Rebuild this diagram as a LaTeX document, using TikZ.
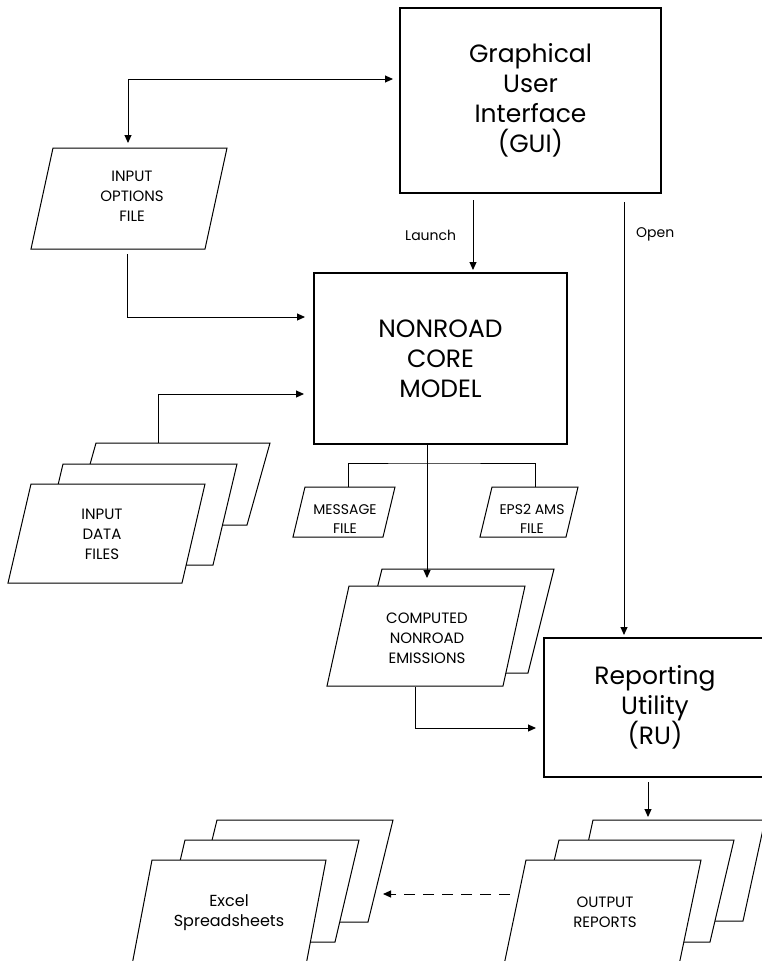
\documentclass[tikz,border=0pt]{standalone}
\usepackage{fontspec}
\setmainfont{Poppins}
\usetikzlibrary{arrows.meta}
\begin{document}
\begin{tikzpicture}[x=1pt,y=-1pt,
  bigbox/.style={draw, line width=2.5pt, align=center, inner sep=0pt, font=\fontsize{25}{30}\selectfont},
  conn/.style={line width=1pt},
  arr/.style={conn, -{Triangle[length=8pt,width=7pt]}},
  dblarr/.style={conn, {Triangle[length=8pt,width=7pt]}-{Triangle[length=8pt,width=7pt]}},
  pg/.style={draw, line width=1pt, fill=white},
  small/.style={align=center, font=\fontsize{15}{20}\selectfont},
  tiny/.style={align=center, font=\fontsize{14}{19}\selectfont},
  lbl/.style={font=\fontsize{14}{16}\selectfont, anchor=west, inner sep=0pt}
]
\useasboundingbox (0,0) rectangle (762,961);

% main boxes
\node[bigbox, minimum width=261pt, minimum height=185pt] (gui) at (530.5,100.5) {Graphical\\User\\Interface\\(GUI)};
\node[bigbox, minimum width=253pt, minimum height=171pt] (core) at (440.5,358.5) {NONROAD\\CORE\\MODEL};
\node[bigbox, minimum width=222pt, minimum height=139pt] (ru) at (655,707.5) {Reporting\\Utility\\(RU)};

% input options file
\draw[pg] (53,148) -- (227,148) -- (205,249) -- (31,249) -- cycle;
\node[small] (iof) at (132,196) {INPUT\\OPTIONS\\FILE};

% input data files (stack)
\draw[pg] (96,443) -- (270,443) -- (247,525) -- (73,525) -- cycle;
\draw[pg] (63,464) -- (237,464) -- (213,565) -- (39,565) -- cycle;
\draw[pg] (31,484) -- (205,484) -- (182,583) -- (8,583) -- cycle;
\node[small] (idf) at (102,534) {INPUT\\DATA\\FILES};

% message and eps2 files
\draw[pg] (305,487) -- (395,487) -- (383,537) -- (293,537) -- cycle;
\node[tiny] (msg) at (345,519) {MESSAGE\\FILE};
\draw[pg] (492,487) -- (578,487) -- (566,537) -- (480,537) -- cycle;
\node[tiny] (eps) at (532,519) {EPS2 AMS\\FILE};

% computed emissions (stack)
\draw[pg] (382,569) -- (554,569) -- (528,673) -- (356,673) -- cycle;
\draw[pg] (349,586) -- (525,586) -- (503,686) -- (327,686) -- cycle;
\node[small] (cmp) at (427,638) {COMPUTED\\NONROAD\\EMISSIONS};

% output reports (stack)
\draw[pg] (593,820) -- (765,820) -- (743,921) -- (571,921) -- cycle;
\draw[pg] (559,840) -- (734,840) -- (710,942) -- (535,942) -- cycle;
\draw[pg] (526,860) -- (701,860) -- (679,965) -- (504,965) -- cycle;
\node[small] (out) at (605,912) {OUTPUT\\REPORTS};

% excel spreadsheets (stack)
\draw[pg] (217,820) -- (393,820) -- (368,922) -- (192,922) -- cycle;
\draw[pg] (185,840) -- (359,840) -- (335,942) -- (161,942) -- cycle;
\draw[pg] (152,860) -- (326,860) -- (306,965) -- (132,965) -- cycle;
\node[small, font=\fontsize{16}{20}\selectfont] (xls) at (229,913) {Excel\\Spreadsheets};

% connector end points
\coordinate (iofIn) at (128,148);
\coordinate (guiL) at (400,79);
\coordinate (iofOut) at (127,249);
\coordinate (coreL1) at (314,317);
\coordinate (idfOut) at (158,443);
\coordinate (coreL2) at (314,394);
\coordinate (launchS) at (473,193);
\coordinate (launchE) at (473,273);
\coordinate (openS) at (624,193);
\coordinate (openE) at (624,638);
\coordinate (coreB) at (427,444);
\coordinate (cmpIn) at (427,586);
\coordinate (msgIn) at (348,487);
\coordinate (brk) at (427,463);
\coordinate (epsIn) at (535,487);
\coordinate (cmpOut) at (415,686);
\coordinate (ruL) at (544,728);
\coordinate (ruB) at (648,777);
\coordinate (outIn) at (648,820);
\coordinate (outL) at (519,894);
\coordinate (xlsR) at (375,894);

% connectors
\draw[dblarr, shorten <=5pt, shorten >=7pt] (iofIn) |- (guiL);
\draw[arr, shorten <=5pt, shorten >=9pt] (iofOut) |- (coreL1);
\draw[arr, shorten >=10pt] (idfOut) |- (coreL2);
\draw[arr, shorten <=7pt, shorten >=3pt] (launchS) -- (launchE);
\draw[arr, shorten <=9pt, shorten >=3pt] (openS) -- (openE);
\draw[arr, shorten >=8pt] (coreB) -- (cmpIn);
\draw[conn] (msgIn) |- (brk) -| (epsIn);
\draw[arr, shorten <=1pt, shorten >=8pt] (cmpOut) |- (ruL);
\draw[arr, shorten <=5pt, shorten >=3pt] (ruB) -- (outIn);
\draw[arr, dash pattern=on 11pt off 8pt, shorten <=9pt, shorten >=8pt] (outL) -- (xlsR);

% labels
\node[lbl] (launch) at (405,235) {Launch};
\node[lbl] (open) at (636,234) {Open};
\end{tikzpicture}
\end{document}
